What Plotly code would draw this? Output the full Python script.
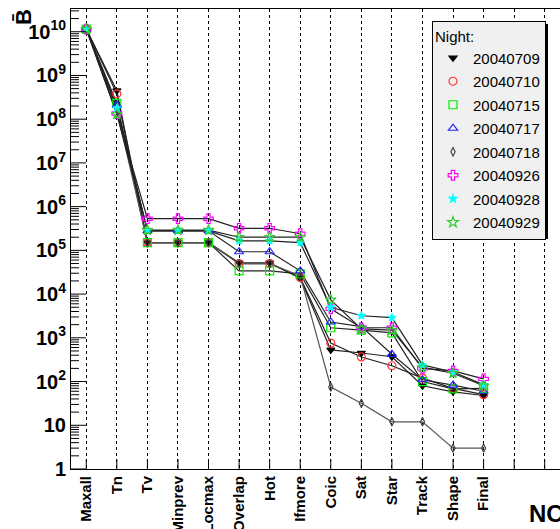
import math
import plotly.graph_objects as go

categories = ["Maxall", "Tn", "Tv", "Minprev", "Locmax", "Overlap", "Hot",
              "Ifmore", "Coic", "Sat", "Star", "Track", "Shape", "Final"]

nights = ["20040709", "20040710", "20040715", "20040717",
          "20040718", "20040926", "20040928", "20040929"]

v_20040709 = [1.15e10, 4.5e8, 1.5e5, 1.5e5, 1.5e5, 5.2e4, 5.2e4, 2.3e4, 530, 450, 370, 80, 58, 48]
v_20040710 = [1.15e10, 3.8e8, 1.5e5, 1.5e5, 1.5e5, 5.0e4, 5.0e4, 2.4e4, 760, 365, 230, 120, 70, 50]
v_20040715 = [1.15e10, 2.3e8, 1.5e5, 1.5e5, 1.5e5, 3.4e4, 3.4e4, 2.9e4, 1.7e3, 1.5e3, 1.3e3, 100, 68, 70]
v_20040717 = [1.15e10, 2.1e8, 2.8e5, 2.8e5, 2.8e5, 9.3e4, 9.3e4, 3.4e4, 2.3e3, 1.8e3, 420, 110, 83, 60]
v_20040718 = [1.15e10, 1.6e8, 1.5e5, 1.5e5, 1.5e5, 5.0e4, 5.0e4, 2.6e4, 75, 32, 12, 12, 3, 3]
v_20040926 = [1.15e10, 1.35e8, 5.3e5, 5.3e5, 5.3e5, 3.2e5, 3.2e5, 2.4e5, 4.6e3, 1.7e3, 1.7e3, 200, 175, 115]
v_20040928 = [1.15e10, 1.8e8, 2.8e5, 2.8e5, 2.8e5, 1.65e5, 1.65e5, 1.5e5, 5.0e3, 3.2e3, 2.9e3, 240, 165, 85]
v_20040929 = [1.15e10, 1.3e8, 2.9e5, 2.9e5, 2.9e5, 2.0e5, 2.0e5, 2.0e5, 7.4e3, 1.6e3, 1.5e3, 210, 155, 80]

series = [v_20040709, v_20040710, v_20040715, v_20040717,
          v_20040718, v_20040926, v_20040928, v_20040929]

symbols = ["triangle-down", "circle-open", "square-open", "triangle-up-open",
           "diamond-tall-open", "cross-open", "star", "star-open"]
colors = ["#000000", "#ff3333", "#00ee00", "#2222ff",
          "#444444", "#ff00ff", "#00ffff", "#33cc33"]
sizes = [7, 8, 8, 8, 6, 8, 6, 8]
line_colors = ["#222222"] * 4 + ["#555555"] + ["#222222"] * 3

decades = list(range(11))
y_tickvals = [10 ** e for e in decades]
y_ticktext = ["1", "10"] + ["10<sup>%d</sup>" % e for e in decades[2:]]
Y_LOG_MAX = 10.52
y_minor = [m * 10 ** e for e in decades for m in range(2, 10)
           if math.log10(m * 10 ** e) < Y_LOG_MAX]

X_MIN, X_MAX = -0.5, 15.5
x_ticks = list(range(16))
x = list(range(len(categories)))

L, T, R, B = 71, 9, 0, 60
W, H = 560, 529
pw, ph = W - L - R, H - T - B
unit_x = pw / (X_MAX - X_MIN)      # pixels per category
unit_y = ph / Y_LOG_MAX            # pixels per decade

fig = go.Figure()

for vals, lc in zip(series, line_colors):
    fig.add_trace(go.Scatter(x=x, y=vals, mode="lines",
                             line=dict(color=lc, width=1.2),
                             showlegend=False, hoverinfo="skip"))

for name, vals, sym, col, sz in zip(nights, series, symbols, colors, sizes):
    fig.add_trace(go.Scatter(x=x, y=vals, mode="markers", name=name,
                             legendgroup=name,
                             marker=dict(symbol=sym, color=col, size=sz,
                                         line=dict(color=col, width=1.2))))

# axis tick marks (ROOT style, inside the frame) drawn as segments
def seg_x(vals, length_px):
    xs, ys = [], []
    for v in vals:
        xs += [X_MIN, X_MIN + length_px / unit_x, None]
        ys += [v, v, None]
    return xs, ys

tx, ty = seg_x(y_tickvals, 15)
mx, my = seg_x(y_minor, 8)
bx, by = [], []
for v in x_ticks:
    bx += [v, v, None]
    by += [1, 10 ** (10 / unit_y), None]
for xs, ys in ((tx, ty), (mx, my), (bx, by)):
    fig.add_trace(go.Scatter(x=xs, y=ys, mode="lines",
                             line=dict(color="black", width=1),
                             showlegend=False, hoverinfo="skip"))

def px(xp):
    return (xp - L) / pw

def py(yp):
    return (H - B - yp) / ph

LEG_FONT = dict(size=15, family="Liberation Sans, Arial, sans-serif")

fig.update_layout(
    width=W, height=H,
    margin=dict(l=L, r=R, t=T, b=B, autoexpand=False),
    paper_bgcolor="white", plot_bgcolor="white",
    font=dict(family="Liberation Sans, Arial, sans-serif", color="black"),
    showlegend=True,
    legend=dict(x=px(432), y=py(21), xanchor="left", yanchor="top",
                bgcolor="#f0f0f0", bordercolor="black", borderwidth=1,
                font=LEG_FONT,
                title=dict(text="Night:", font=LEG_FONT),
                tracegroupgap=1, itemwidth=30),
    xaxis=dict(range=[X_MIN, X_MAX], tickmode="array",
               tickvals=x_ticks,
               ticktext=["<b>%s</b>" % c for c in categories] + [" ", " "],
               tickangle=-90, automargin=False,
               tickfont=dict(size=15), ticks="",
               showgrid=True, gridcolor="black", griddash="dot", gridwidth=1,
               showline=True, linecolor="black", linewidth=1, mirror=True,
               zeroline=False),
    yaxis=dict(type="log", range=[0, Y_LOG_MAX], tickmode="array",
               tickvals=y_tickvals, ticktext=["<b>%s</b>" % t for t in y_ticktext],
               automargin=False, tickfont=dict(size=20), ticks="",
               showgrid=False, showline=True, linecolor="black", linewidth=1,
               mirror=True, zeroline=False),
    shapes=[dict(type="rect", xref="paper", yref="paper",
                 x0=px(435), x1=px(548), y0=py(239), y1=py(24),
                 fillcolor="black", line=dict(width=0), layer="above")],
    annotations=[
        dict(text="<b>B\u0304</b>", xref="paper", yref="paper",
             x=px(23), y=py(17), xanchor="center", yanchor="middle",
             textangle=-90, showarrow=False, font=dict(size=22)),
        dict(text="<b>NC</b>", xref="paper", yref="paper",
             x=px(527), y=py(513), xanchor="left", yanchor="middle",
             showarrow=False, font=dict(size=24)),
    ],
)

fig.write_html("out.html", config={"displayModeBar": False},
               post_script="document.body.style.margin='0px';document.body.style.overflow='hidden';")
